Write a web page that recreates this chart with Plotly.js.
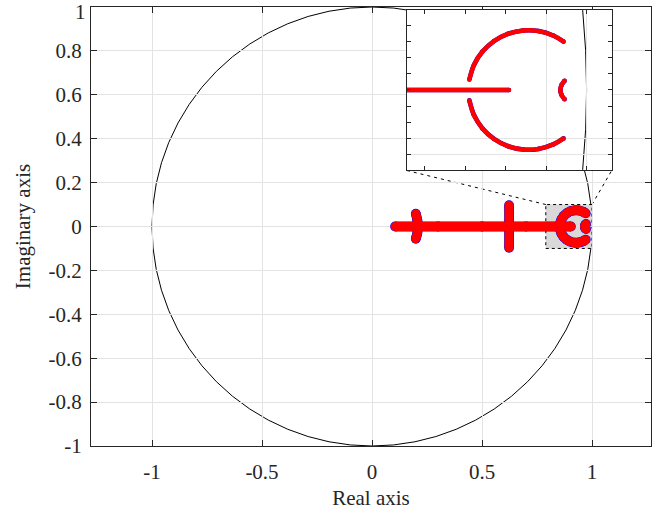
<!DOCTYPE html>
<html>
<head>
<meta charset="utf-8">
<script src="https://cdn.plot.ly/plotly-3.0.1.min.js"></script>
<style>html,body{margin:0;padding:0;background:#fff;}#chart{width:661px;height:510px;}</style>
</head>
<body>
<div id="chart"></div>
<script>
// ---- data ----
// real-axis branch
const realBranchX = [0.105, 0.30, 0.50, 0.70, 0.904];
const realBranchY = [0, 0, 0, 0, 0];
// short vertical branch near 0.21
const branchAX = [0.199, 0.206, 0.208, 0.206, 0.199];
const branchAY = [0.058, 0.030, 0, -0.030, -0.056];
// vertical branch near 0.62
const branchBX = [0.623, 0.623, 0.623];
const branchBY = [0.097, 0, -0.097];
// upper half of the C-shaped arc near 0.93
const arcUpperX = [0.9715, 0.9593, 0.9408, 0.9216, 0.9027, 0.8856, 0.8713, 0.8609, 0.8551];
const arcUpperY = [0.0599, 0.0671, 0.0729, 0.0737, 0.0695, 0.0606, 0.0476, 0.0313, 0.0129];
// lower half of the C-shaped arc
const arcLowerX = [0.8551, 0.8609, 0.8713, 0.8856, 0.9027, 0.9216, 0.9408, 0.9593, 0.9715];
const arcLowerY = [-0.0129, -0.0313, -0.0476, -0.0606, -0.0695, -0.0737, -0.0729, -0.0671, -0.0599];
// small branch near 0.97
const smallBranchX = [0.9728, 0.9690, 0.9675, 0.9690, 0.9728];
const smallBranchY = [0.0115, 0.0060, 0, -0.0060, -0.0115];

// tick values / labels
const mainXTicks = [-1, -0.5, 0, 0.5, 1];
const mainXLabels = ['-1', '-0.5', '0', '0.5', '1'];
const mainYTicks = [-1, -0.8, -0.6, -0.4, -0.2, 0, 0.2, 0.4, 0.6, 0.8, 1];
const mainYLabels = ['-1', '-0.8', '-0.6', '-0.4', '-0.2', '0', '0.2', '0.4', '0.6', '0.8', '1'];
const insetXTicks = [0.8, 0.85, 0.9, 0.95, 1.0];
const insetYTicks = [-0.08, -0.06, -0.04, -0.02, 0, 0.02, 0.04, 0.06, 0.08];
const insetXGrid = [0.95, 1.0];
const insetYGrid = [-0.08, -0.06];

// ---- build traces ----
const branchesX = [realBranchX, branchAX, branchBX, arcUpperX, arcLowerX, smallBranchX];
const branchesY = [realBranchY, branchAY, branchBY, arcUpperY, arcLowerY, smallBranchY];
function joinBranches(list) {
  const out = [];
  list.forEach((b, i) => { if (i) out.push(null); b.forEach(v => out.push(v)); });
  return out;
}
const locusX = joinBranches(branchesX);
const locusY = joinBranches(branchesY);

function locusTrace(xa, ya, color, lw, ms) {
  return {
    x: locusX, y: locusY, xaxis: xa, yaxis: ya,
    type: 'scatter', mode: 'lines+markers', connectgaps: false,
    line: {color: color, width: lw, shape: 'spline', smoothing: 1},
    marker: {color: color, size: ms, line: {width: 0}},
    hoverinfo: 'skip', showlegend: false
  };
}

const traces = [
  locusTrace('x', 'y', '#0000ff', 9.8, 9.8),
  locusTrace('x', 'y', '#ff0000', 9, 9),
  locusTrace('x2', 'y2', '#0000ff', 4.6, 4.6),
  locusTrace('x2', 'y2', '#ff0000', 4.4, 4.4)
];

const axCol = '#262626';
const gridCol = '#e3e3e3';
const fam = 'Liberation Serif, serif';
const tickFont = {family: fam, size: 21, color: axCol};

// the top y label is drawn as an annotation nudged inside the figure
const shownYLabels = mainYLabels.map((t, i) => i === mainYLabels.length - 1 ? '' : t);

const layout = {
  width: 661, height: 510,
  margin: {l: 91, r: 10, t: 7, b: 64, pad: 0},
  paper_bgcolor: '#ffffff', plot_bgcolor: '#ffffff',
  showlegend: false,
  xaxis: {
    domain: [0, 1], range: [-1.2773, 1.2682], anchor: 'y',
    tickmode: 'array', tickvals: mainXTicks, ticktext: mainXLabels,
    ticks: 'inside', ticklen: 6, tickcolor: axCol, tickwidth: 1,
    showline: true, linecolor: axCol, linewidth: 1, mirror: 'ticks',
    showgrid: true, gridcolor: gridCol, zeroline: false,
    tickfont: tickFont, ticklabelstandoff: 7, ticklabeloverflow: 'allow',
    title: {text: 'Real axis', font: {family: fam, size: 21, color: axCol}, standoff: 8},
    automargin: false, fixedrange: true
  },
  yaxis: {
    domain: [0, 1], range: [-1, 1], anchor: 'x',
    tickmode: 'array', tickvals: mainYTicks, ticktext: shownYLabels,
    ticks: 'inside', ticklen: 6, tickcolor: axCol, tickwidth: 1,
    showline: true, linecolor: axCol, linewidth: 1, mirror: 'ticks',
    showgrid: true, gridcolor: gridCol, zeroline: false,
    tickfont: tickFont, ticklabelstandoff: 4, ticklabeloverflow: 'allow',
    title: {text: 'Imaginary axis', font: {family: fam, size: 21, color: axCol}, standoff: 12},
    automargin: false, fixedrange: true
  },
  xaxis2: {
    domain: [0.5643, 0.9298], range: [0.778, 1.031], anchor: 'y2',
    tickmode: 'array', tickvals: insetXTicks, showticklabels: false,
    ticks: 'inside', ticklen: 4, tickcolor: axCol, tickwidth: 1,
    showline: true, linecolor: axCol, linewidth: 1, mirror: 'ticks',
    showgrid: false, zeroline: false,
    minor: {tickmode: 'array', tickvals: insetXGrid, ticks: '', showgrid: true, gridcolor: gridCol, gridwidth: 1},
    fixedrange: true
  },
  yaxis2: {
    domain: [0.6287, 0.9932], range: [-0.099, 0.099], anchor: 'x2',
    tickmode: 'array', tickvals: insetYTicks, showticklabels: false,
    ticks: 'inside', ticklen: 4, tickcolor: axCol, tickwidth: 1,
    showline: true, linecolor: axCol, linewidth: 1, mirror: 'ticks',
    showgrid: false, zeroline: false,
    minor: {tickmode: 'array', tickvals: insetYGrid, ticks: '', showgrid: true, gridcolor: gridCol, gridwidth: 1},
    fixedrange: true
  },
  annotations: [
    {text: mainYLabels[mainYLabels.length - 1], xref: 'paper', x: 0, xanchor: 'right', xshift: -3,
     yref: 'y', y: mainYTicks[mainYTicks.length - 1], yanchor: 'middle', yshift: -5,
     showarrow: false, font: tickFont}
  ],
  shapes: [
    // unit circle in the main axes
    {type: 'circle', xref: 'x', yref: 'y', x0: -1, y0: -1, x1: 1, y1: 1,
     line: {color: '#000000', width: 1}, layer: 'below'},
    // zoom region
    {type: 'rect', xref: 'x', yref: 'y', x0: 0.79, y0: -0.1, x1: 1.0, y1: 0.1,
     fillcolor: '#d9d9d9', line: {color: '#000000', width: 1, dash: '3px,3px'}, layer: 'below'},
    // connectors
    {type: 'line', xref: 'x', yref: 'y', x0: 0.79, y0: 0.1, x1: 0.159, y1: 0.255,
     line: {color: '#000000', width: 1, dash: '3px,4px'}, layer: 'below'},
    {type: 'line', xref: 'x', yref: 'y', x0: 1.0, y0: 0.1, x1: 1.0895, y1: 0.255,
     line: {color: '#000000', width: 1, dash: '3px,4px'}, layer: 'below'},
    // inset background
    {type: 'rect', xref: 'x2', yref: 'y2', x0: 0.778, y0: -0.099, x1: 1.031, y1: 0.099,
     fillcolor: '#ffffff', line: {width: 0}, layer: 'below'},
    // unit circle in the inset
    {type: 'circle', xref: 'x2', yref: 'y2', x0: -1, y0: -1, x1: 1, y1: 1,
     line: {color: '#000000', width: 1}, layer: 'below'}
  ]
};

Plotly.newPlot('chart', traces, layout, {staticPlot: true, displayModeBar: false});
</script>
</body>
</html>
